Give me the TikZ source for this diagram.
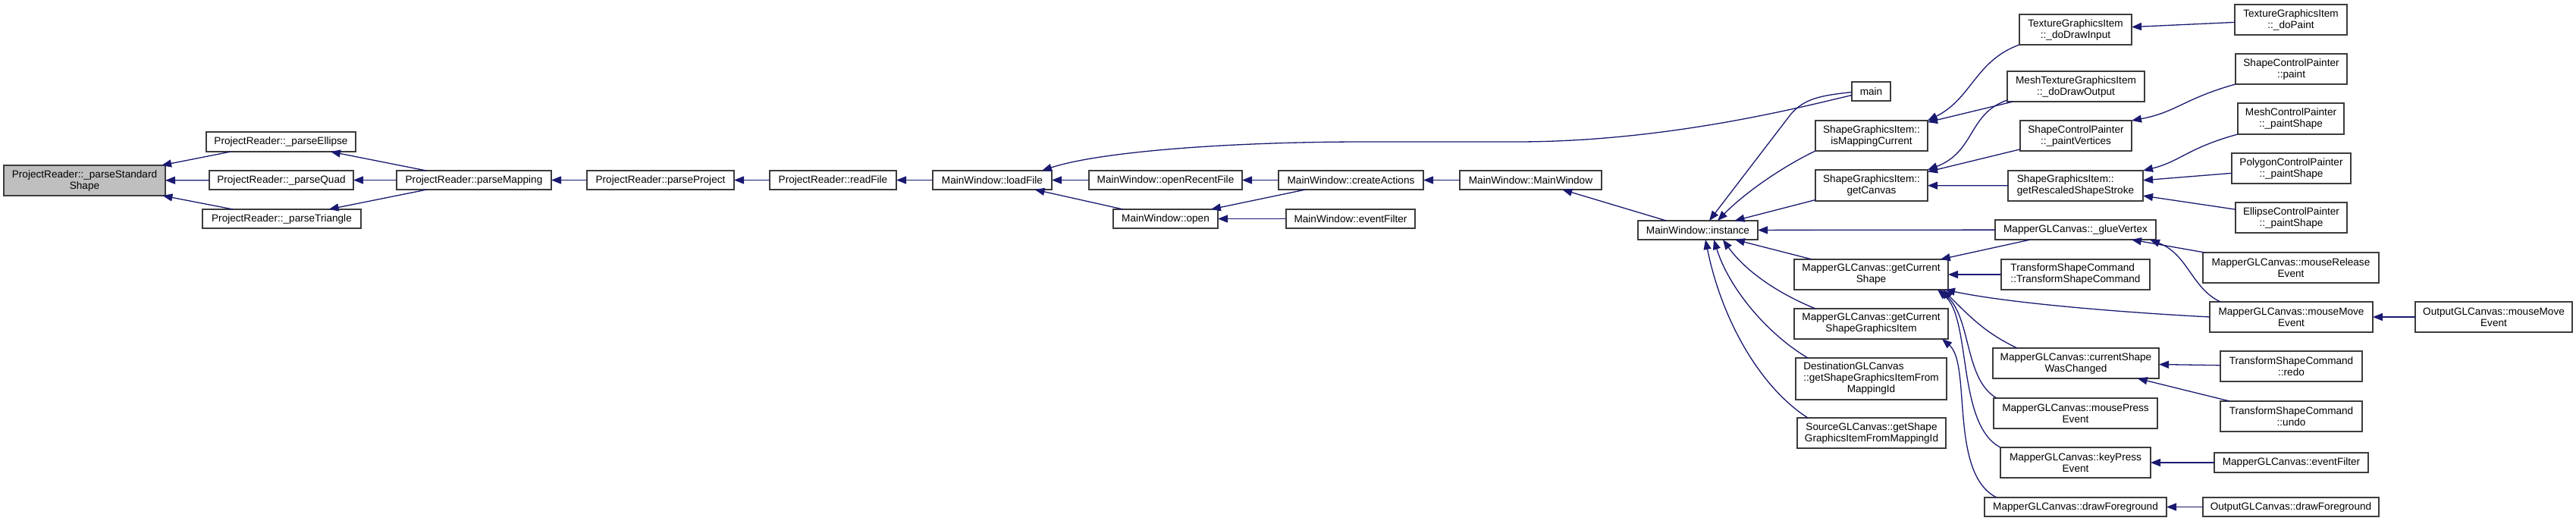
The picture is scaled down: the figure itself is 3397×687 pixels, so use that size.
\documentclass[tikz,border=0pt]{standalone}
\usepackage{fontspec}
\setmainfont{Liberation Sans}
\usetikzlibrary{arrows.meta}
\definecolor{edgecol}{RGB}{25,25,112}
\definecolor{boxline}{RGB}{60,60,60}
\definecolor{hilite}{RGB}{191,191,191}
\newcommand\mkbox[7][]{\node[box,#1,minimum width={(#5)-(#3)},minimum height={(#6)-(#4)}] (#2) at ({((#3)+(#5))/2},{((#4)+(#6))/2}) {#7};}
\newcommand\lft[1]{\begin{tabular}{@{}l@{}}#1\end{tabular}}
\newcommand\lastc[1]{\multicolumn{1}{@{}c@{}}{#1}}
\begin{document}
\begin{tikzpicture}[x=1pt,y=-1pt,
  box/.style={draw=boxline,line width=1.3pt,fill=white,inner sep=0pt,outer sep=0pt,align=center,font=\fontsize{13.6}{15}\selectfont},
  edge/.style={draw=edgecol,line width=1.3pt,-{Triangle[length=13pt,width=10pt]}}]
\fill[white] (0,0) rectangle (3397,687);
\useasboundingbox (0,0) rectangle (3397,687);
% nodes
\mkbox[fill=hilite]{std}{5}{218}{218}{258}{ProjectReader::\_parseStandard\\Shape}
\mkbox{ell}{272}{174}{469}{200}{ProjectReader::\_parseEllipse}
\mkbox{quad}{276}{225}{466}{250}{ProjectReader::\_parseQuad}
\mkbox{tri}{267}{276}{476}{301}{ProjectReader::\_parseTriangle}
\mkbox{pmap}{523}{225}{727}{250}{ProjectReader::parseMapping}
\mkbox{pproj}{774}{225}{968}{250}{ProjectReader::parseProject}
\mkbox{rfile}{1015}{225}{1182}{250}{ProjectReader::readFile}
\mkbox{lfile}{1230}{225}{1387}{250}{MainWindow::loadFile}
\mkbox{orf}{1436}{225}{1638}{250}{MainWindow::openRecentFile}
\mkbox{open}{1468}{276}{1606}{301}{MainWindow::open}
\mkbox{cact}{1686}{225}{1877}{250}{MainWindow::createActions}
\mkbox{mwef}{1696}{276}{1866}{301}{MainWindow::eventFilter}
\mkbox{mwmw}{1925}{225}{2112}{250}{MainWindow::MainWindow}
\mkbox{inst}{2160}{291}{2318}{316}{MainWindow::instance}
\mkbox{main}{2442}{108}{2493}{133}{main}
\mkbox{smc}{2394}{159}{2542}{199}{ShapeGraphicsItem::\\isMappingCurrent}
\mkbox{sgc}{2394}{224}{2542}{265}{ShapeGraphicsItem::\\getCanvas}
\mkbox{gcs}{2366}{342}{2569}{382}{MapperGLCanvas::getCurrent\\Shape}
\mkbox{gcsgi}{2366}{407}{2569}{447}{MapperGLCanvas::getCurrent\\ShapeGraphicsItem}
\mkbox{dgl}{2368}{472}{2567}{527}{\lft{DestinationGLCanvas\\::getShapeGraphicsItemFrom\\\lastc{MappingId}}}
\mkbox{sgl}{2370}{551}{2566}{591}{SourceGLCanvas::getShape\\GraphicsItemFromMappingId}
\mkbox{tdi}{2663}{19}{2811}{59}{TextureGraphicsItem\\::\_doDrawInput}
\mkbox{mtdo}{2647}{94}{2828}{134}{MeshTextureGraphicsItem\\::\_doDrawOutput}
\mkbox{scpv}{2664}{159}{2811}{199}{ShapeControlPainter\\::\_paintVertices}
\mkbox{grs}{2648}{225}{2826}{265}{\lft{ShapeGraphicsItem::\\getRescaledShapeStroke}}
\mkbox{glue}{2631}{290}{2843}{316}{MapperGLCanvas::\_glueVertex}
\mkbox{tsc}{2639}{342}{2835}{382}{\lft{TransformShapeCommand\\::TransformShapeCommand}}
\mkbox{csw}{2628}{459}{2847}{499}{MapperGLCanvas::currentShape\\WasChanged}
\mkbox{mpe}{2629}{525}{2845}{565}{MapperGLCanvas::mousePress\\Event}
\mkbox{kpe}{2638}{590}{2836}{630}{MapperGLCanvas::keyPress\\Event}
\mkbox{dfg}{2617}{656}{2857}{681}{MapperGLCanvas::drawForeground}
\mkbox{tdp}{2947}{6}{3095}{46}{TextureGraphicsItem\\::\_doPaint}
\mkbox{scpp}{2948}{71}{3095}{111}{ShapeControlPainter\\::paint}
\mkbox{mcps}{2951}{136}{3091}{177}{MeshControlPainter\\::\_paintShape}
\mkbox{pcps}{2943}{202}{3100}{242}{PolygonControlPainter\\::\_paintShape}
\mkbox{ecps}{2948}{267}{3095}{307}{EllipseControlPainter\\::\_paintShape}
\mkbox{mre}{2905}{333}{3137}{373}{MapperGLCanvas::mouseRelease\\Event}
\mkbox{mme}{2914}{398}{3129}{438}{MapperGLCanvas::mouseMove\\Event}
\mkbox{redo}{2928}{463}{3115}{503}{TransformShapeCommand\\::redo}
\mkbox{undo}{2928}{529}{3115}{569}{TransformShapeCommand\\::undo}
\mkbox{mef}{2920}{597}{3123}{623}{MapperGLCanvas::eventFilter}
\mkbox{ofg}{2905}{656}{3137}{681}{OutputGLCanvas::drawForeground}
\mkbox{omme}{3185}{398}{3392}{438}{OutputGLCanvas::mouseMove\\Event}
% edges
\draw[edge] (ell) -- (std);
\draw[edge] (quad) -- (std);
\draw[edge] (tri) -- (std);
\draw[edge] (pmap) -- (ell);
\draw[edge] (pmap) -- (quad);
\draw[edge] (pmap) -- (tri);
\draw[edge] (pproj) -- (pmap);
\draw[edge] (rfile) -- (pproj);
\draw[edge] (lfile) -- (rfile);
\draw[edge] (orf) -- (lfile);
\draw[edge] (open) -- (lfile);
\draw[edge] (cact) -- (orf);
\draw[edge] (cact) -- (open);
\draw[edge] (mwef) -- (open);
\draw[edge] (mwmw) -- (cact);
\draw[edge] (inst) -- (mwmw);
\draw[edge] ([yshift=-5pt]main.west) .. controls (2380,140) and (2200,187) .. (2000,187) -- (1800,187) .. controls (1620,187) and (1450,200) .. ([xshift=-13pt]lfile.north east);
\draw[edge] ([yshift=-1pt]main.west) .. controls (2400,126) and (2380,130) .. (2362,150) -- ([xshift=15pt]inst.north);
\draw[edge] (smc.south west) .. controls (2350,220) and (2300,255) .. ([xshift=26pt]inst.north);
\draw[edge] (sgc) -- (inst);
\draw[edge] (glue) -- (inst);
\draw[edge] (gcs) -- (inst);
\draw[edge] ([xshift=28pt]gcsgi.north west) .. controls (2340,385) and (2300,355) .. ([xshift=33pt]inst.south);
\draw[edge] ([xshift=16pt]dgl.north west) .. controls (2330,440) and (2280,380) .. ([xshift=21pt]inst.south);
\draw[edge] ([xshift=14pt]sgl.north west) .. controls (2320,510) and (2270,420) .. ([xshift=10pt]inst.south);
\draw[edge] (tdi.south west) .. controls (2605,80) and (2600,130) .. (smc.north east);
\draw[edge] (mtdo) -- (smc);
\draw[edge] ([yshift=2pt]mtdo.south west) .. controls (2595,150) and (2605,200) .. (sgc.north east);
\draw[edge] (scpv) -- (sgc);
\draw[edge] (grs) -- (sgc);
\draw[edge] (glue) -- (gcs);
\draw[edge] (tsc) -- (gcs);
\draw[edge] (mme.west) .. controls (2800,412) and (2650,400) .. ([xshift=-4pt]gcs.south east);
\draw[edge] ([xshift=32pt]csw.north west) .. controls (2620,440) and (2600,420) .. ([xshift=-7pt]gcs.south east);
\draw[edge] ([xshift=4pt]mpe.north west) .. controls (2590,500) and (2600,420) .. ([xshift=-11pt]gcs.south east);
\draw[edge] (kpe.north west) .. controls (2580,560) and (2600,420) .. ([xshift=-14pt]gcs.south east);
\draw[edge] ([xshift=16pt]dfg.north west) .. controls (2570,625) and (2600,480) .. ([xshift=-8pt]gcsgi.south east);
\draw[edge] (tdp) -- (tdi);
\draw[edge] (scpp.south west) .. controls (2880,130) and (2870,148) .. (scpv.north east);
\draw[edge] (mcps.south west) .. controls (2885,195) and (2875,213) .. (grs.north east);
\draw[edge] (pcps) -- (grs);
\draw[edge] (ecps) -- (grs);
\draw[edge] (mre) -- (glue);
\draw[edge] ([xshift=14pt]mme.north west) .. controls (2890,380) and (2885,335) .. ([xshift=-8pt]glue.south east);
\draw[edge] (omme) -- (mme);
\draw[edge] (redo) -- (csw);
\draw[edge] (undo) -- (csw);
\draw[edge] (mef) -- (kpe);
\draw[edge] (ofg) -- (dfg);
\end{tikzpicture}
\end{document}
